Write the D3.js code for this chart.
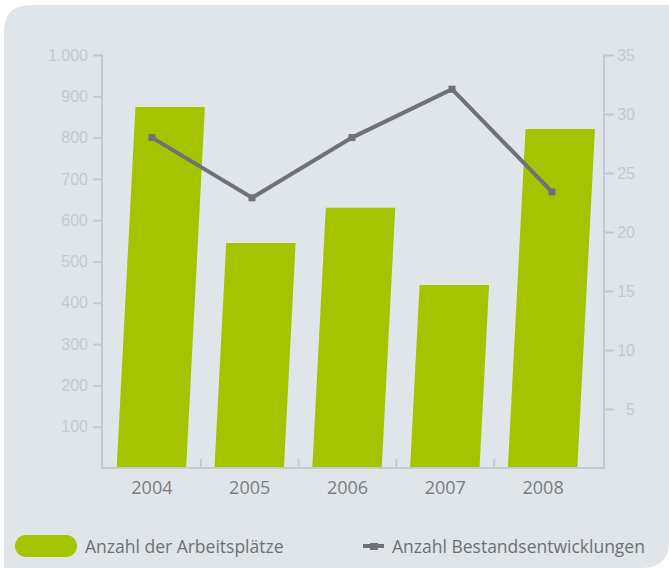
<!DOCTYPE html>
<html>
<head>
<meta charset="utf-8">
<script src="https://cdn.jsdelivr.net/npm/d3@7"></script>
<style>
  html, body { margin: 0; padding: 0; background: #fff; }
  svg { display: block; font-family: "Open Sans", "Noto Sans", sans-serif; }
</style>
</head>
<body>
<script>
var width = 669,
    height = 568;

// data
var years = ["2004", "2005", "2006", "2007", "2008"];
var arbeitsplaetze = [874, 545, 630, 443, 821];
var bestand = [28.0, 22.9, 28.0, 32.1, 23.4];
var leftTicks = [100, 200, 300, 400, 500, 600, 700, 800, 900, 1000];
var rightTicks = [5, 10, 15, 20, 25, 30, 35];

var x0 = 103, x1 = 592, yTop = 55, yBase = 468, xLeft = 102, xRight = 604;

var svg = d3.select("body").append("svg").attr("width", width).attr("height", height);

// panel with rounded corners (top-left and bottom-right)
var r = 27;
svg.append("path")
    .attr("d", "M4," + (5 + r) + " Q4,5 " + (4 + r) + ",5 L669,5 L669," + (568 - r) +
        " Q669,568 " + (669 - r) + ",568 L4,568 Z")
    .attr("fill", "#e0e5e9");

var x = d3.scaleBand().domain(years).range([x0, x1]);
// the line markers sit on a slightly different grid than the bars
var xLine = d3.scalePoint().domain(years).range([152, 552]);
var yL = d3.scaleLinear().domain([0, 1000]).range([yBase, yTop]);
var yR = d3.scaleLinear().domain([0, 35]).range([yBase, yTop]);

var axisColor = "#c3cbd0",
    tickText = "#c3cbd0";

// bars, slightly slanted like the original
var skew = 0.052;
var barW = x.bandwidth() * 0.71;
svg.append("g").selectAll("path")
    .data(years)
    .enter()
    .append("path")
    .attr("d", function (d, i) {
        var cx = x(d) + x.bandwidth() / 2 - 0.5;
        var top = yL(arbeitsplaetze[i]);
        var s = (yBase - top) * skew;
        var l = cx - barW / 2, rr = cx + barW / 2;
        return "M" + l + "," + yBase + " L" + (l + s) + "," + top + " L" + (rr + s) + "," + top +
            " L" + rr + "," + yBase + " Z";
    })
    .attr("fill", "#a4c400");

// left axis
var leftAxis = svg.append("g")
    .attr("transform", "translate(" + xLeft + ",0)")
    .call(d3.axisLeft(yL).tickValues(leftTicks).tickSize(9).tickPadding(5)
        .tickFormat(function (d) { return d === 1000 ? "1.000" : d; }));
leftAxis.select(".domain").remove();
leftAxis.selectAll("line").attr("stroke", axisColor).attr("stroke-width", 2);
leftAxis.selectAll("text").attr("fill", tickText).style("font-size", "16px");
svg.append("line").attr("x1", xLeft).attr("x2", xLeft)
    .attr("y1", yTop - 1).attr("y2", yBase + 1)
    .attr("stroke", axisColor).attr("stroke-width", 2);

// right axis
var rightAxis = svg.append("g")
    .attr("transform", "translate(" + xRight + ",0)")
    .call(d3.axisRight(yR).tickValues(rightTicks).tickSize(10).tickPadding(2));
rightAxis.select(".domain").remove();
rightAxis.selectAll("line").attr("stroke", axisColor).attr("stroke-width", 2);
rightAxis.selectAll("text").attr("fill", tickText).style("font-size", "16px")
    .attr("text-anchor", "end").attr("x", 31);
svg.append("line").attr("x1", xRight).attr("x2", xRight)
    .attr("y1", yTop - 1).attr("y2", yBase + 1)
    .attr("stroke", axisColor).attr("stroke-width", 2);

// bottom axis
svg.append("line").attr("x1", xLeft - 1).attr("x2", xRight + 1)
    .attr("y1", yBase).attr("y2", yBase)
    .attr("stroke", axisColor).attr("stroke-width", 2);
svg.append("g").selectAll("line")
    .data(years.slice(1))
    .enter()
    .append("line")
    .attr("x1", function (d) { return x(d); })
    .attr("x2", function (d) { return x(d); })
    .attr("y1", yBase).attr("y2", yBase - 9)
    .attr("stroke", axisColor).attr("stroke-width", 2);
svg.append("g").selectAll("text")
    .data(years)
    .enter()
    .append("text")
    .attr("x", function (d) { return x(d) + x.bandwidth() / 2; })
    .attr("y", yBase + 26)
    .attr("text-anchor", "middle")
    .attr("fill", "#797d81")
    .style("font-size", "18px")
    .text(function (d) { return d; });

// line series
var lineColor = "#6e7277";
var line = d3.line()
    .x(function (d, i) { return xLine(years[i]); })
    .y(function (d) { return yR(d); });
svg.append("path")
    .datum(bestand)
    .attr("d", line)
    .attr("fill", "none")
    .attr("stroke", lineColor)
    .attr("stroke-width", 4)
    .attr("stroke-linejoin", "miter");
svg.append("g").selectAll("rect")
    .data(bestand)
    .enter()
    .append("rect")
    .attr("x", function (d, i) { return xLine(years[i]) - 3.5; })
    .attr("y", function (d) { return yR(d) - 3.5; })
    .attr("width", 7).attr("height", 7)
    .attr("fill", lineColor);

// legend
var legend = svg.append("g");
legend.append("rect")
    .attr("x", 15).attr("y", 535).attr("width", 62).attr("height", 22)
    .attr("rx", 11)
    .attr("fill", "#a4c400");
legend.append("text")
    .attr("x", 85).attr("y", 553)
    .attr("fill", "#6d7175")
    .style("font-size", "17.5px")
    .text("Anzahl der Arbeitsplätze");
legend.append("line")
    .attr("x1", 363).attr("x2", 384).attr("y1", 546).attr("y2", 546)
    .attr("stroke", lineColor).attr("stroke-width", 4);
legend.append("rect")
    .attr("x", 370).attr("y", 543).attr("width", 8).attr("height", 7)
    .attr("fill", lineColor);
legend.append("text")
    .attr("x", 392).attr("y", 553)
    .attr("fill", "#6d7175")
    .style("font-size", "17.5px")
    .text("Anzahl Bestandsentwicklungen");
</script>
</body>
</html>
